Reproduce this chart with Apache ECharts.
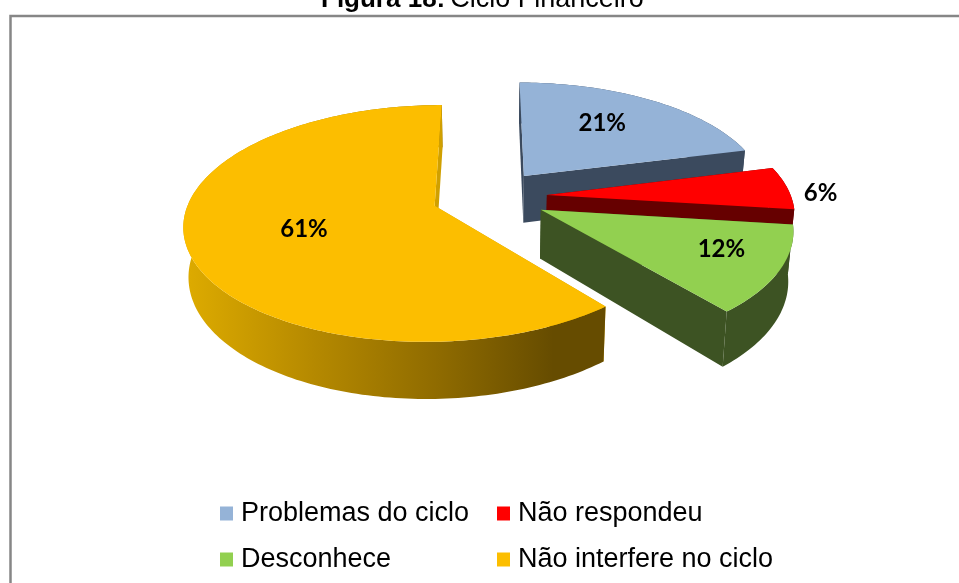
<!DOCTYPE html>
<html>
<head>
<meta charset="utf-8">
<style>
html,body{margin:0;padding:0;background:#fff;overflow:hidden}
#chart{width:959px;height:583px}
</style>
<script src="https://cdn.jsdelivr.net/npm/echarts@6/dist/echarts.min.js"></script>
</head>
<body>
<div id="chart"></div>
<script>
var categories = ['Problemas do ciclo', 'Não respondeu', 'Desconhece', 'Não interfere no ciclo'];
var values = [21, 6, 12, 61];
var colors = ['#95b3d7', '#ff0000', '#92d050', '#fcbe00'];
var wallColors = ['#3b4a5e', '#660000', '#3d5323', '#d0a000'];

// pie is drawn on a tilted ground plane, with a bit of perspective
var X0 = 489.5, Y0 = 196.6, RX = 244.2, RY = 113, K = 0.148, EXPLODE = 0.236, DEPTH = 48, SHRINK = 0.983;
// label place for each slice: distance from slice apex, then a small y nudge
var labelR = [0.59, 1.14, 0.77, 0.54];
var labelDy = [-6, 6, -6, 2];

var total = values.reduce(function (a, b) { return a + b }, 0);

function project(gx, gy) {
    var s = 1 / (1 - K * gy);
    return [X0 + RX * gx * s, Y0 + RY * gy * s, s];
}
function bottom(p) {
    return [X0 + (p[0] - X0) * SHRINK, p[1] + DEPTH * p[2]];
}

function renderSlice(index) {
    return function () {
        var before = 0;
        for (var i = 0; i < index; i++) before += values[i];
        var a0 = before / total * Math.PI * 2;
        var a1 = (before + values[index]) / total * Math.PI * 2;
        var mid = (a0 + a1) / 2;
        var ox = Math.sin(mid) * EXPLODE, oy = -Math.cos(mid) * EXPLODE;

        var apex = project(ox, oy);
        var rim = [];
        var n = Math.ceil((a1 - a0) / 0.02);
        for (var j = 0; j <= n; j++) {
            var a = a0 + (a1 - a0) * j / n;
            rim.push(project(ox + Math.sin(a), oy - Math.cos(a)));
        }
        var xy = function (p) { return [p[0], p[1]] };
        var wall = rim.map(xy).concat(rim.map(bottom).reverse());
        var first = rim[0], last = rim[rim.length - 1];
        var wallFill = wallColors[index];
        var rimFill = wallFill;
        if (index === 3) {
            rimFill = new echarts.graphic.LinearGradient(190, 0, 603, 0, [
                { offset: 0, color: '#dcaa00' },
                { offset: 0.3, color: '#b58900' },
                { offset: 0.6, color: '#8f6b00' },
                { offset: 0.88, color: '#664c00' },
                { offset: 1, color: '#664c00' }
            ], true);
        }
        var poly = function (pts, fill) {
            return { type: 'polygon', shape: { points: pts }, style: { fill: fill }, silent: true };
        };
        var lp = project(ox + Math.sin(mid) * labelR[index], oy - Math.cos(mid) * labelR[index]);
        return {
            type: 'group',
            children: [
                poly([xy(apex), xy(first), bottom(first), bottom(apex)], wallFill),
                poly(wall, rimFill),
                poly([xy(apex), xy(last), bottom(last), bottom(apex)], wallFill),
                poly([xy(apex)].concat(rim.map(xy)), colors[index]),
                {
                    type: 'text',
                    silent: true,
                    style: {
                        x: lp[0], y: lp[1] + labelDy[index],
                        text: values[index] + '%',
                        font: 'bold 24px Lato, "Noto Sans", sans-serif',
                        fill: '#000',
                        align: 'center',
                        verticalAlign: 'middle'
                    }
                }
            ]
        };
    };
}

var legendText = { fontFamily: '"Liberation Sans", Arial, sans-serif', fontSize: 27, color: '#000', padding: [0, 0, 0, 3] };

var myChart = echarts.init(document.getElementById('chart'), null, { renderer: 'canvas' });
myChart.setOption({
    animation: false,
    backgroundColor: '#fff',
    title: {
        text: '{b|Figura 18:} {r|Ciclo Financeiro}',
        left: 321,
        top: -14,
        padding: 0,
        textStyle: {
            fontWeight: 'normal',
            rich: {
                b: { fontFamily: '"Liberation Sans"', fontSize: 26, fontWeight: 'bold', color: '#000' },
                r: { fontFamily: '"Liberation Sans"', fontSize: 27, fontWeight: 'normal', color: '#000' }
            }
        }
    },
    legend: [
        {
            data: [categories[0], categories[2]],
            orient: 'vertical', left: 220, top: 500,
            itemWidth: 13, itemHeight: 14, itemGap: 19, padding: 0,
            icon: 'rect', selectedMode: false, textStyle: legendText
        },
        {
            data: [categories[1], categories[3]],
            orient: 'vertical', left: 497, top: 500,
            itemWidth: 13, itemHeight: 14, itemGap: 19, padding: 0,
            icon: 'rect', selectedMode: false, textStyle: legendText
        }
    ],
    graphic: [{
        type: 'rect',
        silent: true,
        shape: { x: 10.5, y: 16, width: 1000, height: 700 },
        style: { fill: null, stroke: '#868686', lineWidth: 2.5 }
    }],
    series: categories.map(function (name, i) {
        return {
            type: 'custom',
            name: name,
            coordinateSystem: 'none',
            silent: true,
            itemStyle: { color: colors[i] },
            data: [values[i]],
            renderItem: renderSlice(i)
        };
    })
});
window.addEventListener('resize', function () { myChart.resize() });
</script>
</body>
</html>
